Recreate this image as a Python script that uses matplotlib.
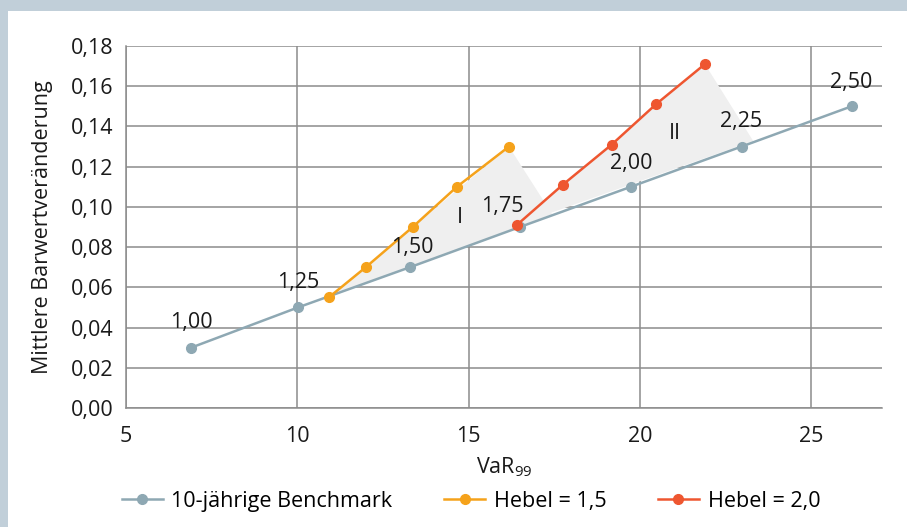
import matplotlib
matplotlib.use("Agg")
import matplotlib.pyplot as plt
from matplotlib.patches import Polygon, Rectangle

plt.rcParams['font.family'] = ['Open Sans', 'DejaVu Sans']

# Benchmark (10-year) and leveraged positions: VaR99 vs. mean change in present value
bench_x = [6.90, 10.02, 13.29, 16.50, 19.74, 22.97, 26.18]
bench_y = [0.030, 0.050, 0.070, 0.090, 0.110, 0.130, 0.150]
bench_labels = ['1,00', '1,25', '1,50', '1,75', '2,00', '2,25', '2,50']

lev15_x = [10.92, 12.00, 13.37, 14.66, 16.18]
lev15_y = [0.055, 0.070, 0.090, 0.110, 0.130]

lev20_x = [16.41, 17.75, 19.18, 20.47, 21.90]
lev20_y = [0.091, 0.111, 0.131, 0.151, 0.171]

# shaded areas between leveraged curves and benchmark
area1 = [(10.92, 0.055), (16.18, 0.130), (17.44, 0.0964)]
area2 = [(16.41, 0.091), (21.90, 0.171), (23.31, 0.1328)]

c_bench = '#8ea8b3'
c_15 = '#f5a21b'
c_20 = '#ee5630'
c_grid = '#8c8c8c'
c_text = '#1a1a1a'
fs = 15.5

fig = plt.figure(figsize=(9.07, 5.27), dpi=100)
fig.patch.set_facecolor('#c1cfd9')
fig.patches.append(Rectangle((8 / 907, 0), 1, 1 - 11 / 527, transform=fig.transFigure,
                             facecolor='white', edgecolor='none', zorder=-1))

ax = fig.add_axes([126 / 907, 1 - 408 / 527, (882 - 126) / 907, (408 - 46) / 527])
ax.set_facecolor('none')

for pts in (area1, area2):
    ax.add_patch(Polygon(pts, closed=True, facecolor='#efefef', edgecolor='none', zorder=1))

ax.plot(bench_x, bench_y, color=c_bench, lw=1.8, marker='o', ms=7, zorder=3,
        label='10-jährige Benchmark')
ax.plot(lev15_x, lev15_y, color=c_15, lw=1.8, marker='o', ms=7, zorder=4,
        label='Hebel = 1,5')
ax.plot(lev20_x, lev20_y, color=c_20, lw=1.8, marker='o', ms=7, zorder=5,
        label='Hebel = 2,0')

offsets = [(0, 18), (0, 18), (2, 14), (-13, 15), (0, 17), (0, 18), (0, 17)]
for x, y, t, off in zip(bench_x, bench_y, bench_labels, offsets):
    ax.annotate(t, (x, y), xytext=off, textcoords='offset points',
                ha='center', va='center', fontsize=fs, color=c_text, zorder=6)

ax.text(14.75, 0.0945, 'I', ha='center', va='center', fontsize=fs, color=c_text)
ax.text(21.02, 0.1367, 'II', ha='center', va='center', fontsize=fs, color=c_text)

ax.set_xlim(5, 27.07)
ax.set_ylim(0, 0.18)
ax.set_xticks([5, 10, 15, 20, 25])
ax.set_yticks([i * 0.02 for i in range(10)])
ax.set_yticklabels([f'{i * 0.02:.2f}'.replace('.', ',') for i in range(10)])
ax.tick_params(length=0, labelsize=fs, colors=c_text)
ax.tick_params(axis='x', pad=13)
ax.tick_params(axis='y', pad=9)
ax.grid(True, color=c_grid, lw=1.1, zorder=0)
ax.set_axisbelow(True)
for s in ['top', 'right']:
    ax.spines[s].set_visible(False)
for s in ['left', 'bottom']:
    ax.spines[s].set_color(c_grid)
    ax.spines[s].set_linewidth(1.1)

ax.set_xlabel('VaR$_{\\mathregular{99}}$', fontsize=fs, labelpad=6, color=c_text)
ax.set_ylabel('Mittlere Barwertveränderung', fontsize=fs, labelpad=13, color=c_text)

leg = fig.legend(loc='center', bbox_to_anchor=(471 / 907, 1 - 501 / 527), ncol=3,
                 frameon=False, fontsize=fs, handlelength=1.9, columnspacing=2.4,
                 handletextpad=0.4)

fig.savefig('out.png', dpi=100, facecolor=fig.get_facecolor())
